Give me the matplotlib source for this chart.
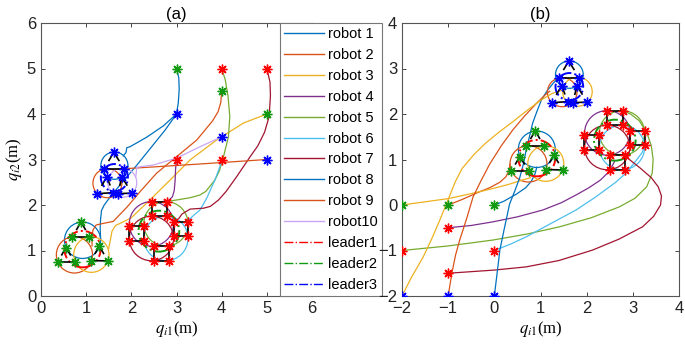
import matplotlib.pyplot as plt
from matplotlib.lines import Line2D
from matplotlib.patches import Circle

plt.rcParams['font.family'] = ['Liberation Sans', 'DejaVu Sans']
plt.rcParams['mathtext.fontset'] = 'stix'

robot_names = ['robot 1', 'robot 2', 'robot 3', 'robot 4', 'robot 5',
               'robot 6', 'robot 7', 'robot 8', 'robot 9', 'robot10']
leader_names = ['leader1', 'leader2', 'leader3']

# matlab style colours, robot10 differs between the two panels
colors_a = ['#0072BD', '#D95319', '#EDB120', '#7E2F8E', '#77AC30',
            '#4DBEEE', '#A2142F', '#0072BD', '#D95319', '#C9A6F5']
colors_b = ['#0072BD', '#D95319', '#EDB120', '#7E2F8E', '#77AC30',
            '#4DBEEE', '#A2142F', '#0072BD', '#D95319', '#EDB120']
leader_colors = ['#FF0000', '#119911', '#0000FF']
star_colors = ['#119911', '#FF0000', '#0000FF']   # green / red / blue groups
robot_group = [0, 0, 0, 1, 1, 1, 1, 2, 2, 2]

# leaders circle (dash-dot) and robot orbits
leader_center = [(0.92, 1.03), (2.61, 1.425), (1.625, 2.60)]
leader_radius = [0.40, 0.45, 0.30]
orbit_center = [(0.92, 1.225), (0.74, 0.905), (1.115, 0.91),
                (2.445, 1.585), (2.765, 1.585), (2.765, 1.265), (2.445, 1.265),
                (1.625, 2.865), (1.47, 2.48), (1.80, 2.49)]
orbit_radius = [0.40, 0.40, 0.39, 0.49, 0.49, 0.49, 0.49, 0.30, 0.32, 0.32]

# formation snapshots (stars + black links)
green_tri = [[(0.89, 1.63), (0.69, 1.30), (1.07, 1.30)],
             [(0.55, 1.06), (0.37, 0.75), (0.75, 0.75)],
             [(1.29, 1.10), (1.11, 0.78), (1.48, 0.77)]]
blue_tri = [[(1.61, 3.16), (1.40, 2.80), (1.84, 2.80)],
            [(1.46, 2.62), (1.24, 2.25), (1.59, 2.27)],
            [(1.79, 2.62), (1.70, 2.25), (2.01, 2.26)]]
red_sq = [[(2.45, 2.07), (2.78, 2.07), (2.78, 1.76), (2.45, 1.76)],
          [(1.95, 1.54), (2.27, 1.54), (2.27, 1.21), (1.95, 1.21)],
          [(2.94, 1.63), (3.26, 1.63), (3.26, 1.32), (2.94, 1.32)],
          [(2.51, 1.10), (2.83, 1.10), (2.83, 0.77), (2.51, 0.77)]]

# approach paths, panel (a)
a_r1 = [(3.0, 5.0), (3.05, 4.8), (3.06, 4.55), (3.04, 4.25), (3.0, 4.0), (2.75, 3.65),
        (2.45, 3.28), (2.1, 2.85), (1.8, 2.5), (1.55, 2.2), (1.4, 2.0), (1.34, 1.88),
        (1.32, 1.7), (1.31, 1.5), (1.32, 1.25)]
a_r2 = [(4.0, 4.5), (3.98, 4.25), (3.92, 4.05), (3.8, 3.85), (3.45, 3.43), (3.0, 3.06),
        (2.56, 2.7), (2.2, 2.3), (1.9, 1.95), (1.6, 1.64), (1.4, 1.6), (1.22, 1.56),
        (1.15, 1.45), (1.13, 1.3), (1.13, 1.1)]
a_r3 = [(5.0, 4.0), (4.48, 3.8), (3.89, 3.43), (3.3, 2.99), (2.86, 2.55), (2.4, 2.1),
        (2.0, 1.72), (1.8, 1.62), (1.65, 1.55), (1.57, 1.42), (1.54, 1.25), (1.5, 1.05)]
a_r4 = [(3.0, 3.0), (2.98, 2.8), (2.97, 2.55), (2.95, 2.32), (2.91, 2.18), (2.82, 2.1),
        (2.65, 2.07)]
a_r5 = [(4.0, 5.0), (4.08, 4.75), (4.14, 4.4), (4.18, 3.94), (4.15, 3.5), (4.05, 3.1),
        (3.95, 2.75), (3.85, 2.55), (3.65, 2.3), (3.52, 2.22), (3.3, 2.16), (3.0, 2.11),
        (2.8, 2.08)]
a_r6 = [(4.0, 3.0), (3.96, 2.84), (3.85, 2.55), (3.67, 2.15), (3.52, 1.89), (3.4, 1.79),
        (3.3, 1.7), (3.22, 1.55)]
a_r7 = [(5.0, 5.0), (5.07, 4.7), (5.08, 4.4), (5.05, 3.94), (4.95, 3.6), (4.8, 3.3),
        (4.63, 3.06), (4.33, 2.62), (4.1, 2.3), (3.93, 2.11), (3.75, 1.97), (3.6, 1.93),
        (3.3, 1.91), (3.12, 1.8), (3.05, 1.7)]
a_r8 = [(3.0, 4.0), (2.71, 3.74), (2.34, 3.49), (1.97, 3.28), (1.9, 3.26), (1.88, 3.15),
        (1.82, 3.08)]
a_r9 = [(5.0, 3.0), (3.5, 2.9), (1.9, 2.8), (1.6, 2.78)]
a_r10 = [(4.0, 3.5), (3.5, 3.27), (3.0, 3.03), (2.49, 2.88), (2.12, 2.83), (2.1, 2.62)]

# approach paths, panel (b)
b_r1 = [(0.0, 0.0), (0.2, 0.08), (0.48, 0.24), (0.68, 0.38), (0.8, 0.52), (0.88, 0.68),
        (0.92, 0.83)]
b_r2 = [(-1.0, 0.0), (-0.7, 0.12), (-0.39, 0.26), (-0.1, 0.38), (0.12, 0.5), (0.25, 0.62),
        (0.32, 0.76), (0.34, 0.9)]
b_r3 = [(-2.0, 0.0), (-1.5, 0.07), (-1.0, 0.14), (-0.5, 0.25), (0.0, 0.37), (0.3, 0.45),
        (0.55, 0.53), (0.78, 0.6)]
b_r4 = [(-1.0, -0.5), (-0.5, -0.45), (-0.03, -0.37), (0.5, -0.26), (1.05, -0.11),
        (1.45, 0.05), (1.77, 0.22), (2.05, 0.38), (2.3, 0.55), (2.5, 0.75), (2.6, 0.95)]
b_r5 = [(-2.0, -1.0), (-1.0, -0.9), (-0.03, -0.77), (0.7, -0.64), (1.41, -0.48),
        (2.1, -0.28), (2.71, -0.04), (3.05, 0.15), (3.3, 0.4), (3.42, 0.7), (3.44, 1.0),
        (3.4, 1.3), (3.3, 1.6), (3.14, 1.85), (2.95, 2.0), (2.78, 2.07)]
b_r6 = [(0.0, -1.0), (0.35, -0.86), (0.69, -0.7), (1.2, -0.42), (1.77, -0.11), (2.2, 0.18),
        (2.63, 0.5), (2.85, 0.7), (3.05, 0.95), (3.2, 1.15), (3.26, 1.3)]
b_r7 = [(-1.0, -1.5), (0.0, -1.43), (0.69, -1.36), (1.4, -1.22), (2.13, -0.99), (2.7, -0.75),
        (3.21, -0.48), (3.45, -0.25), (3.6, 0.0), (3.62, 0.2), (3.55, 0.4), (3.4, 0.6),
        (3.15, 0.82), (2.9, 1.02)]
b_r8 = [(0.0, -2.0), (0.06, -1.5), (0.12, -0.99), (0.22, -0.5), (0.33, 0.02), (0.44, 0.3),
        (0.55, 0.6), (0.63, 0.9), (0.69, 1.21), (0.76, 1.5), (0.83, 1.8), (0.92, 2.05),
        (1.02, 2.31), (1.15, 2.52), (1.27, 2.67), (1.35, 2.76)]
b_r9 = [(-1.0, -2.0), (-0.92, -1.5), (-0.84, -1.1), (-0.75, -0.77), (-0.6, -0.3),
        (-0.46, 0.18), (-0.28, 0.55), (-0.1, 0.9), (0.15, 1.3), (0.4, 1.65), (0.65, 1.95),
        (0.9, 2.22), (1.1, 2.42), (1.2, 2.5)]
b_r10 = [(-2.0, -2.0), (-1.8, -1.6), (-1.54, -1.14), (-1.35, -0.73), (-1.18, -0.33),
         (-1.0, 0.12), (-0.85, 0.5), (-0.7, 0.8), (-0.45, 1.1), (-0.2, 1.35), (0.1, 1.6),
         (0.4, 1.83), (0.7, 2.07), (1.0, 2.3), (1.25, 2.45), (1.45, 2.52)]

paths_a = [a_r1, a_r2, a_r3, a_r4, a_r5, a_r6, a_r7, a_r8, a_r9, a_r10]
paths_b = [b_r1, b_r2, b_r3, b_r4, b_r5, b_r6, b_r7, b_r8, b_r9, b_r10]

star = (8, 2, 0)
star_kw = dict(marker=star, ms=7, mew=1.0, ls='none', zorder=6)


def draw_panel(ax, paths, colors):
    for i in range(10):
        xs = [p[0] for p in paths[i]]
        ys = [p[1] for p in paths[i]]
        ax.plot(xs, ys, color=colors[i], lw=0.9, zorder=2)
        ax.add_patch(Circle(orbit_center[i], orbit_radius[i], fill=False,
                            ec=colors[i], lw=0.9, zorder=2))
        ax.plot(xs[0], ys[0], color=star_colors[robot_group[i]], **star_kw)
    for k in range(3):
        ax.add_patch(Circle(leader_center[k], leader_radius[k], fill=False,
                            ec=leader_colors[k], lw=1.4, ls='-.', zorder=3))
    # triangles: base link plus a short "^" under the apex
    for tri, c in [(green_tri, star_colors[0]), (blue_tri, star_colors[2])]:
        for (p0, p1, p2) in tri:
            ax.plot([p1[0], p2[0]], [p1[1], p2[1]], color='k', lw=1.2, zorder=4)
            for q in (p1, p2):
                ax.plot([p0[0], p0[0] + 0.5 * (q[0] - p0[0])],
                        [p0[1], p0[1] + 0.5 * (q[1] - p0[1])], color='k', lw=1.2, zorder=4)
            ax.plot([p0[0], p1[0], p2[0]], [p0[1], p1[1], p2[1]], color=c, **star_kw)
    for sq in red_sq:
        xs = [p[0] for p in sq] + [sq[0][0]]
        ys = [p[1] for p in sq] + [sq[0][1]]
        ax.plot(xs, ys, color='k', lw=1.2, zorder=4)
        ax.plot(xs[:4], ys[:4], color=star_colors[1], **star_kw)


fig = plt.figure(figsize=(6.85, 3.47), dpi=100)
ax1 = fig.add_axes([41 / 685, 51 / 347, 271 / 685, 273 / 347])
ax2 = fig.add_axes([402 / 685, 51 / 347, 277 / 685, 273 / 347])

draw_panel(ax1, paths_a, colors_a)
draw_panel(ax2, paths_b, colors_b)

ax1.set_xlim(0, 6)
ax1.set_ylim(0, 6)
ax1.set_xticks(range(0, 7))
ax1.set_yticks(range(0, 7))
ax2.set_xlim(-2, 4)
ax2.set_ylim(-2, 4)
ax2.set_xticks(range(-2, 5))
ax2.set_yticks(range(-2, 5))

for ax, t in [(ax1, '(a)'), (ax2, '(b)')]:
    ax.tick_params(direction='in', top=True, right=True, length=3, width=0.7,
                   labelsize=12, color='#444444', labelcolor='#222222')
    for s in ax.spines.values():
        s.set_color('#555555')
        s.set_linewidth(0.8)
    ax.set_title(t, fontsize=12, pad=3, family='Liberation Sans')
    ax.set_xlabel(r'$q_{i1}$(m)', fontsize=12, family='Liberation Serif', labelpad=2)
ax1.set_ylabel(r'$q_{i2}$(m)', fontsize=12, family='Liberation Serif', labelpad=2)

handles = [Line2D([], [], color=colors_a[i], lw=1.0) for i in range(10)]
handles += [Line2D([], [], color=leader_colors[k], lw=1.0, ls='-.') for k in range(3)]
leg = ax1.legend(handles, robot_names + leader_names, loc='upper left',
                 bbox_to_anchor=(0.882, 1.0), borderaxespad=0, fontsize=10.5,
                 handlelength=2.7, handletextpad=0.3, labelspacing=0.47,
                 borderpad=0.3, fancybox=False, framealpha=1, edgecolor='#777777')
leg.get_frame().set_linewidth(0.8)
leg.set_zorder(10)

fig.savefig('out.png', dpi=100)
